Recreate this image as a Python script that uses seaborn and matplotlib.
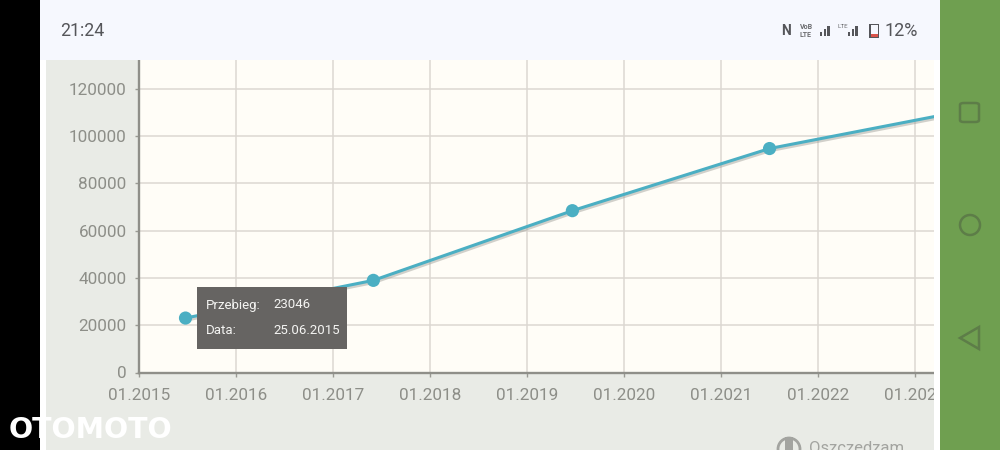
import pandas as pd
import seaborn as sns
import matplotlib.pyplot as plt
import matplotlib.dates as mdates
import matplotlib.patheffects as pe
from matplotlib.patches import Rectangle, Circle, Polygon, FancyBboxPatch

# mileage readings, last one is cut off by the right edge of the plot
dates = ["2015-06-25", "2017-06-01", "2019-06-20", "2021-07-01", "2023-03-12"]
mileage = [23046, 39000, 68500, 94800, 108300]
marked = [True, True, True, True, False]
y_ticks = [0, 20000, 40000, 60000, 80000, 100000, 120000]

tooltip_rows = [("Przebieg:", "23046"), ("Data:", "25.06.2015")]

W, H = 1000, 450
LINE = "#4bafc3"
TICK_TEXT = "#8d8e88"
GRID = "#dcd8d2"

sns.set_theme(style="whitegrid")
plt.rcParams["font.family"] = ["Roboto", "DejaVu Sans"]

df = pd.DataFrame({"date": pd.to_datetime(dates), "mileage": mileage, "marked": marked})

fig = plt.figure(figsize=(W / 100, H / 100), dpi=100, facecolor="white")


def box(x0, y0, x1, y1, color, z=-1):
    """Rectangle given in screen pixels, y going down"""
    fig.add_artist(Rectangle((x0 / W, 1 - y1 / H), (x1 - x0) / W, (y1 - y0) / H,
                             transform=fig.transFigure, fc=color, ec="none", zorder=z))


def label(x, y, s, **kw):
    fig.text(x / W, 1 - y / H, s, va="center", **kw)


# screen chrome
box(0, 0, 40, H, "black")
box(46, 60, 934, H, "#e9ebe6")
box(40, 0, 940, 60, "#f6f8fe", z=2)
box(934, 60, 940, H, "white", z=2)
box(940, 0, W, H, "#6f9f50", z=2)

ax = fig.add_axes([139 / W, 1 - 372.5 / H, 795 / W, 312.5 / H], facecolor="#fffdf7")
ax.set_zorder(1)

line = sns.lineplot(df, x="date", y="mileage", color=LINE, linewidth=2.2, ax=ax, zorder=4)
line.lines[0].set_path_effects([
    pe.SimpleLineShadow(offset=(0.5, -1.5), shadow_color="#9a9a94", alpha=0.45),
    pe.Normal(),
])
sns.scatterplot(df[df["marked"]], x="date", y="mileage", color=LINE, s=90,
                edgecolor="none", ax=ax, zorder=5, clip_on=False)

ax.set_xlim(pd.Timestamp("2015-01-01"), pd.Timestamp("2023-03-12"))
ax.set_ylim(0, 132275)
ax.set_yticks(y_ticks)
ax.xaxis.set_major_locator(mdates.YearLocator())
ax.xaxis.set_major_formatter(mdates.DateFormatter("%m.%Y"))
ax.set_xlabel("")
ax.set_ylabel("")
ax.grid(True, color=GRID, linewidth=1.1)
ax.tick_params(axis="both", length=3, width=1, color="#9a9a94", labelcolor=TICK_TEXT,
               labelsize=12.3, bottom=True, left=True)
ax.tick_params(axis="x", pad=8)
ax.tick_params(axis="y", pad=6)
for side in ["top", "right"]:
    ax.spines[side].set_visible(False)
for side in ["left", "bottom"]:
    ax.spines[side].set_color("#8f8f89")
    ax.spines[side].set_linewidth(1.7)

# tooltip
box(197, 287, 347, 349, "#666462", z=6)
for (name, value), y in zip(tooltip_rows, [305, 330]):
    label(206, y, name, color="#f4f4f2", fontsize=9.5, zorder=7)
    label(273, y, value, color="#f4f4f2", fontsize=9.5, zorder=7)

# status bar
label(60, 31, "21:24", color="#55565a", fontsize=12.8, zorder=7)
label(884, 31, "12%", color="#55565a", fontsize=13, zorder=7)
label(800, 31, "VoB\nLTE", color="#6a6b6e", fontsize=5, ha="left", linespacing=0.9,
      fontweight="bold", zorder=7)
label(781, 31, "N", color="#55565a", fontsize=10, fontweight="bold", zorder=7)
label(838, 27, "LTE", color="#6a6b6e", fontsize=4.5, zorder=7)
for x0 in [820, 848]:
    for i, h in enumerate([4, 7, 10]):
        box(x0 + i * 3.6, 36 - h, x0 + i * 3.6 + 2.4, 36, "#55565a", z=7)
box(869, 24, 879, 38, "#55565a", z=7)
box(870.5, 25.5, 877.5, 36.5, "#f6f8fe", z=8)
box(870.5, 34, 877.5, 36.5, "#d9534a", z=9)

# navigation buttons
nav = "#5d7d48"
fig.add_artist(FancyBboxPatch((960 / W, 1 - 122 / H), 19 / W, 19 / H,
                              boxstyle="round,pad=0,rounding_size=0.004",
                              transform=fig.transFigure, fc="none", ec=nav, lw=1.8, zorder=7))
fig.add_artist(Circle((970, H - 225), 10, transform=None, fc="none", ec=nav, lw=1.8, zorder=7))
fig.add_artist(Polygon([(979, H - 327), (979, H - 349), (960, H - 338)], closed=True,
                       transform=None, fc="none", ec=nav, lw=1.8, zorder=7))

# savings badge at the bottom, runs off the screenshot
fig.add_artist(Circle((789, H - 449), 11, transform=None, fc="none", ec="#a3a4a0", lw=2, zorder=3))
box(785, 437, 793, 450, "#a3a4a0", z=3)
label(809, 448, "Oszczędzam", color="#a3a4a0", fontsize=12, zorder=3)

# watermark
label(9, 430, "OTOMOTO", color="white", fontsize=20.5, fontweight="bold",
      family=["DejaVu Sans"], zorder=10)

plt.savefig("out.png", dpi=100)
